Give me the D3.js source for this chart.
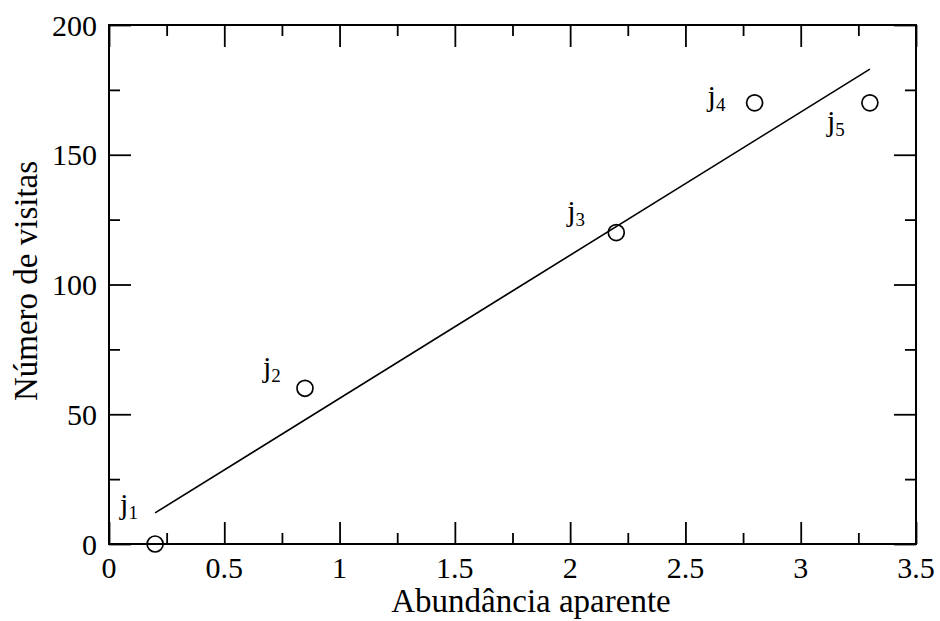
<!DOCTYPE html>
<html>
<head>
<meta charset="utf-8">
<script src="https://cdn.jsdelivr.net/npm/d3@7"></script>
<style>
  html, body { margin: 0; padding: 0; background: #fff; }
  svg { display: block; }
</style>
</head>
<body>
<svg id="chart" width="940" height="621"></svg>
<script>
// Observations: apparent abundance vs. number of visits
const pointNames = ["1", "2", "3", "4", "5"];
const abundance = [0.2, 0.85, 2.2, 2.8, 3.3];
const visits = [0, 60, 120, 170, 170];

// Fitted straight line (end points)
const fitX = [0.2, 3.3];
const fitY = [12, 183];

// Axis ticks
const xMajor = [0, 0.5, 1, 1.5, 2, 2.5, 3, 3.5];
const xMinor = [0.25, 0.75, 1.25, 1.75, 2.25, 2.75, 3.25];
const yMajor = [0, 50, 100, 150, 200];
const yMinor = [25, 75, 125, 175];
const xTickLabels = ["0", "0.5", "1", "1.5", "2", "2.5", "3", "3.5"];
const yTickLabels = ["0", "50", "100", "150", "200"];

const xTitle = "Abundância aparente";
const yTitle = "Número de visitas";

const serif = '"Liberation Serif"';
const svg = d3.select("#chart");
const plotLeft = 109, plotRight = 916, plotTop = 25, plotBottom = 544;

const x = d3.scaleLinear().domain([0, 3.5]).range([plotLeft, plotRight]);
const y = d3.scaleLinear().domain([0, 200]).range([plotBottom, plotTop]);

const majorLen = 22, minorLen = 11;

// Ticks on all four sides, pointing inward
function ticks(axisGen, vals, len, transform) {
  const g = svg.append("g").attr("transform", transform)
    .call(axisGen.tickValues(vals).tickSize(len).tickFormat(""));
  g.select(".domain").remove();
  g.selectAll(".tick line").attr("stroke", "#000").attr("stroke-width", 1.8);
  return g;
}
ticks(d3.axisTop(x), xMajor, majorLen, `translate(0,${plotBottom})`);
ticks(d3.axisTop(x), xMinor, minorLen, `translate(0,${plotBottom})`);
ticks(d3.axisBottom(x), xMajor, majorLen, `translate(0,${plotTop})`);
ticks(d3.axisBottom(x), xMinor, minorLen, `translate(0,${plotTop})`);
ticks(d3.axisRight(y), yMajor, majorLen, `translate(${plotLeft},0)`);
ticks(d3.axisRight(y), yMinor, minorLen, `translate(${plotLeft},0)`);
ticks(d3.axisLeft(y), yMajor, majorLen, `translate(${plotRight},0)`);
ticks(d3.axisLeft(y), yMinor, minorLen, `translate(${plotRight},0)`);

// Frame
svg.append("rect")
  .attr("x", plotLeft).attr("y", plotTop)
  .attr("width", plotRight - plotLeft).attr("height", plotBottom - plotTop)
  .attr("fill", "none").attr("stroke", "#000").attr("stroke-width", 2);

// Tick labels
svg.append("g").selectAll("text").data(xMajor).join("text")
  .style("font-family", serif)
  .attr("x", d => x(d)).attr("y", 578)
  .attr("text-anchor", "middle").attr("font-size", 30)
  .text((d, i) => xTickLabels[i]);
svg.append("g").selectAll("text").data(yMajor).join("text")
  .style("font-family", serif)
  .attr("x", 97).attr("y", d => y(d) + 10.5)
  .attr("text-anchor", "end").attr("font-size", 30)
  .text((d, i) => yTickLabels[i]);

// Axis titles
svg.append("text")
  .style("font-family", serif)
  .attr("x", 531).attr("y", 612)
  .attr("text-anchor", "middle").attr("font-size", 33)
  .text(xTitle);
svg.append("text")
  .style("font-family", serif)
  .attr("transform", `translate(37,281) rotate(-90)`)
  .attr("text-anchor", "middle").attr("font-size", 33)
  .text(yTitle);

// Fitted line
const line = d3.line().x(d => x(d[0])).y(d => y(d[1]));
svg.append("path")
  .datum(fitX.map((v, i) => [v, fitY[i]]))
  .attr("d", line)
  .attr("fill", "none").attr("stroke", "#000").attr("stroke-width", 1.6);

// Data points
const pts = abundance.map((v, i) => ({ x: v, y: visits[i], name: pointNames[i] }));
svg.append("g").selectAll("circle").data(pts).join("circle")
  .attr("cx", d => x(d.x)).attr("cy", d => y(d.y)).attr("r", 8)
  .attr("fill", "none").attr("stroke", "#000").attr("stroke-width", 1.7);

// Point labels (offsets in pixels from each marker)
const labelOffsets = [[-35, -30.5], [-42, -11.5], [-49, -12], [-47, 3.5], [-43, 28.5]];
const labels = svg.append("g").selectAll("text").data(pts).join("text")
  .style("font-family", serif)
  .attr("x", (d, i) => x(d.x) + labelOffsets[i][0])
  .attr("y", (d, i) => y(d.y) + labelOffsets[i][1])
  .attr("font-size", 30);
labels.append("tspan").text("j");
labels.append("tspan").attr("font-size", 19).attr("dy", 5).text(d => d.name);
</script>
</body>
</html>
